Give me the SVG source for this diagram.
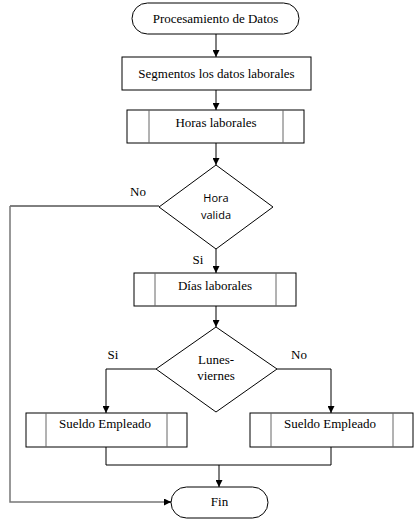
<svg xmlns="http://www.w3.org/2000/svg" width="420" height="528" viewBox="0 0 420 528">
<defs>
<marker id="ah" viewBox="0 0 10 10" refX="10" refY="5" markerWidth="7" markerHeight="7" markerUnits="userSpaceOnUse" orient="auto">
<path d="M0,0 L10,5 L0,10 z" fill="#000"/>
</marker>
<style>
.box{fill:#fff;stroke:#000;stroke-width:1}
.inner{stroke:#666;stroke-width:1}
.t{font-family:'Liberation Serif','DejaVu Serif',Times,serif;font-size:13px;fill:#000;text-anchor:middle}
.s{font-family:'Open Sans','DejaVu Sans',sans-serif;font-size:11px;fill:#000;text-anchor:middle}
.c{fill:none;stroke:#000;stroke-width:1}
.g{fill:none;stroke:#777;stroke-width:1.5}
</style>
</defs>
<rect width="420" height="528" fill="#fff"/>
<g id="connectors">
<line class="c" x1="216" y1="34" x2="216" y2="57" marker-end="url(#ah)"/>
<line class="c" x1="216" y1="90" x2="216" y2="110" marker-end="url(#ah)"/>
<line class="c" x1="216" y1="143" x2="216" y2="165" marker-end="url(#ah)"/>
<polyline class="c" points="159,206 10,206"/>
<polyline class="g" points="10,206 10,502 171,502"/>
<line class="c" x1="165" y1="502" x2="171" y2="502" marker-end="url(#ah)"/>
<line class="c" x1="216" y1="249" x2="216" y2="273" marker-end="url(#ah)"/>
<line class="c" x1="216" y1="306" x2="216" y2="327" marker-end="url(#ah)"/>
<polyline class="c" points="156,369 106,369 106,413" marker-end="url(#ah)"/>
<polyline class="c" points="277,369 331,369 331,413" marker-end="url(#ah)"/>
<polyline class="c" points="106,447 106,465 331,465 331,447"/>
<line class="c" x1="219" y1="465" x2="219" y2="487" marker-end="url(#ah)"/>
</g>
<g id="start">
<rect class="box" x="132" y="3" width="167" height="31" rx="15.5"/>
<text class="t" x="215.5" y="23" font-family="Liberation Serif, serif">Procesamiento de Datos</text>
</g>
<g id="segmentos">
<rect class="box" x="122" y="57" width="189" height="33"/>
<text class="t" x="216.5" y="78">Segmentos los datos laborales</text>
</g>
<g id="horas">
<rect class="box" x="127" y="110" width="177" height="33"/>
<line class="inner" x1="149" y1="110" x2="149" y2="143"/>
<line class="inner" x1="283" y1="110" x2="283" y2="143"/>
<text class="t" x="216" y="127">Horas laborales</text>
</g>
<g id="hora-valida">
<polygon class="box" points="216,165 273,207 216,249 159,207"/>
<text class="s" x="216" y="202">Hora</text>
<text class="s" x="216" y="219">valida</text>
</g>
<g id="dias">
<rect class="box" x="134" y="273" width="162" height="33"/>
<line class="inner" x1="155" y1="273" x2="155" y2="306"/>
<line class="inner" x1="276" y1="273" x2="276" y2="306"/>
<text class="t" x="215" y="290">Días laborales</text>
</g>
<g id="lunes-viernes">
<polygon class="box" points="216,327 277,369 216,412 156,369"/>
<text class="t" x="216" y="364">Lunes-</text>
<text class="t" x="216" y="380">viernes</text>
</g>
<g id="sueldo-si">
<rect class="box" x="26" y="413" width="161" height="34"/>
<line class="inner" x1="46" y1="413" x2="46" y2="447"/>
<line class="inner" x1="167" y1="413" x2="167" y2="447"/>
<text class="t" x="105" y="428">Sueldo Empleado</text>
</g>
<g id="sueldo-no">
<rect class="box" x="250" y="413" width="163" height="34"/>
<line class="inner" x1="271" y1="413" x2="271" y2="447"/>
<line class="inner" x1="393" y1="413" x2="393" y2="447"/>
<text class="t" x="330" y="428">Sueldo Empleado</text>
</g>
<g id="fin">
<rect class="box" x="171" y="487" width="97" height="31" rx="15.5"/>
<text class="t" x="219.5" y="506">Fin</text>
</g>
<g id="labels">
<text class="t" x="138" y="196">No</text>
<text class="t" x="198" y="264">Si</text>
<text class="t" x="113" y="359">Si</text>
<text class="t" x="299" y="359">No</text>
</g>
</svg>
